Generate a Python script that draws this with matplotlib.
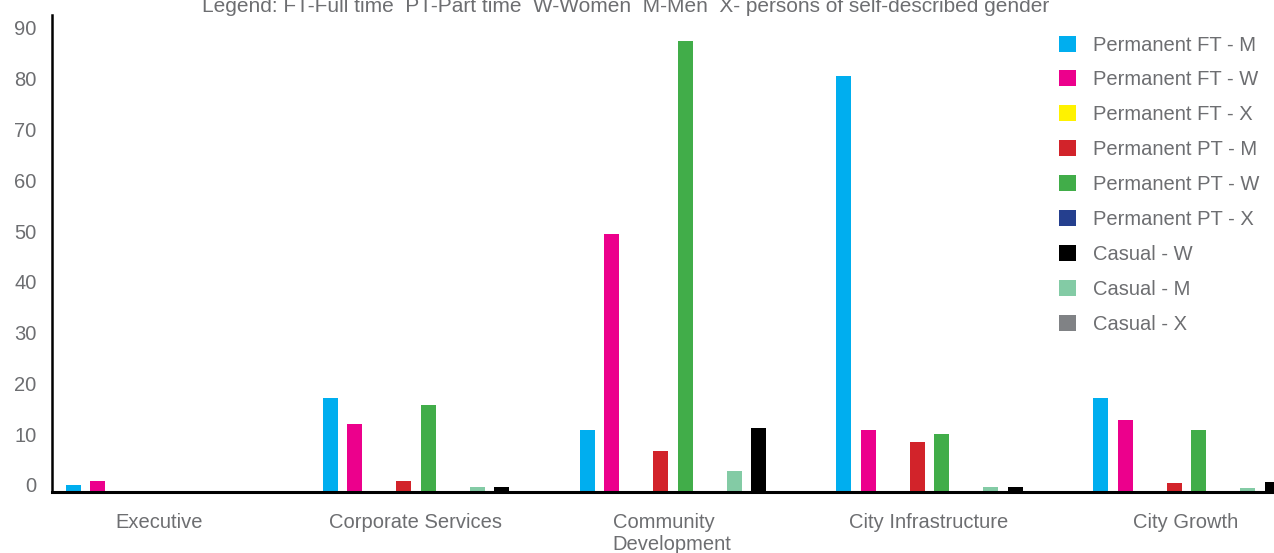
import numpy as np
import matplotlib.pyplot as plt
from matplotlib.transforms import ScaledTranslation

plt.rcParams['font.family'] = ['Liberation Sans', 'DejaVu Sans']

categories = ['Executive', 'Corporate Services', 'Community\nDevelopment',
              'City Infrastructure', 'City Growth']

# values per series, one per category
perm_ft_m = [1.4, 18.5, 12.2, 81.9, 18.5]
perm_ft_w = [2.2, 13.4, 50.8, 12.2, 14.2]
perm_ft_x = [0, 0, 0, 0, 0]
perm_pt_m = [0, 2.2, 8.1, 9.8, 1.8]
perm_pt_w = [0, 17.1, 88.8, 11.4, 12.2]
perm_pt_x = [0, 0, 0, 0, 0]
casual_m = [0, 1.0, 4.1, 1.0, 0.8]
casual_w = [0, 1.0, 12.6, 1.0, 2.0]
casual_x = [0, 0, 0, 0, 0]

title = 'Legend: FT-Full time  PT-Part time  W-Women  M-Men  X- persons of self-described gender'

# drawing order (left to right inside a group)
series = [
    ('Permanent FT - M', perm_ft_m, '#00aeef'),
    ('Permanent FT - W', perm_ft_w, '#ec008c'),
    ('Permanent FT - X', perm_ft_x, '#fff200'),
    ('Permanent PT - M', perm_pt_m, '#d2232a'),
    ('Permanent PT - W', perm_pt_w, '#41ad49'),
    ('Permanent PT - X', perm_pt_x, '#253f8e'),
    ('Casual - M', casual_m, '#83cba5'),
    ('Casual - W', casual_w, '#000000'),
    ('Casual - X', casual_x, '#808285'),
]
legend_order = ['Permanent FT - M', 'Permanent FT - W', 'Permanent FT - X',
                'Permanent PT - M', 'Permanent PT - W', 'Permanent PT - X',
                'Casual - W', 'Casual - M', 'Casual - X']

grey = '#6d6e71'
fig = plt.figure(figsize=(12.74, 5.53), dpi=100)
ax = fig.add_axes([52/1274, 61/553, 1 - 52/1274, (492-15)/553])

x = np.arange(len(categories))
step = 24.5/256.75
width = 15/256.75
handles = {}
for k, (name, vals, col) in enumerate(series):
    b = ax.bar(x + (k-4)*step, vals, width, color=col, label=name, zorder=1)
    handles[name] = b

ax.set_xlim(-0.4654, 4.294)
ax.set_ylim(0, 93.9)
ax.set_yticks(np.arange(0, 91, 10))
ax.set_xticks(x - 0.05)
ax.set_xticklabels(categories)
ax.tick_params(length=0, labelsize=14.5, labelcolor=grey)
ax.tick_params(axis='y', pad=11)
ax.tick_params(axis='x', pad=15)
for lab in ax.get_yticklabels():
    lab.set_transform(lab.get_transform() + ScaledTranslation(0, 7/100, fig.dpi_scale_trans))
for lab in ax.get_xticklabels():
    lab.set_multialignment('left')

for s in ['top', 'right']:
    ax.spines[s].set_visible(False)
ax.spines['left'].set_linewidth(1.8)
ax.spines['bottom'].set_linewidth(2.2)
ax.spines['bottom'].set_zorder(3)

ax.legend([handles[n] for n in legend_order], legend_order,
          loc='upper left', bbox_to_anchor=(1059/1274, 1 - 35.5/553),
          bbox_transform=fig.transFigure, frameon=False, fontsize=14.5,
          labelcolor=grey, handlelength=0.85, handleheight=0.85,
          handletextpad=0.85, labelspacing=0.79, borderpad=0, borderaxespad=0)

fig.text(626/1274, 1 - 6/553, title, ha='center', va='center',
         fontsize=15, color=grey)

fig.savefig('out.png', dpi=100)
